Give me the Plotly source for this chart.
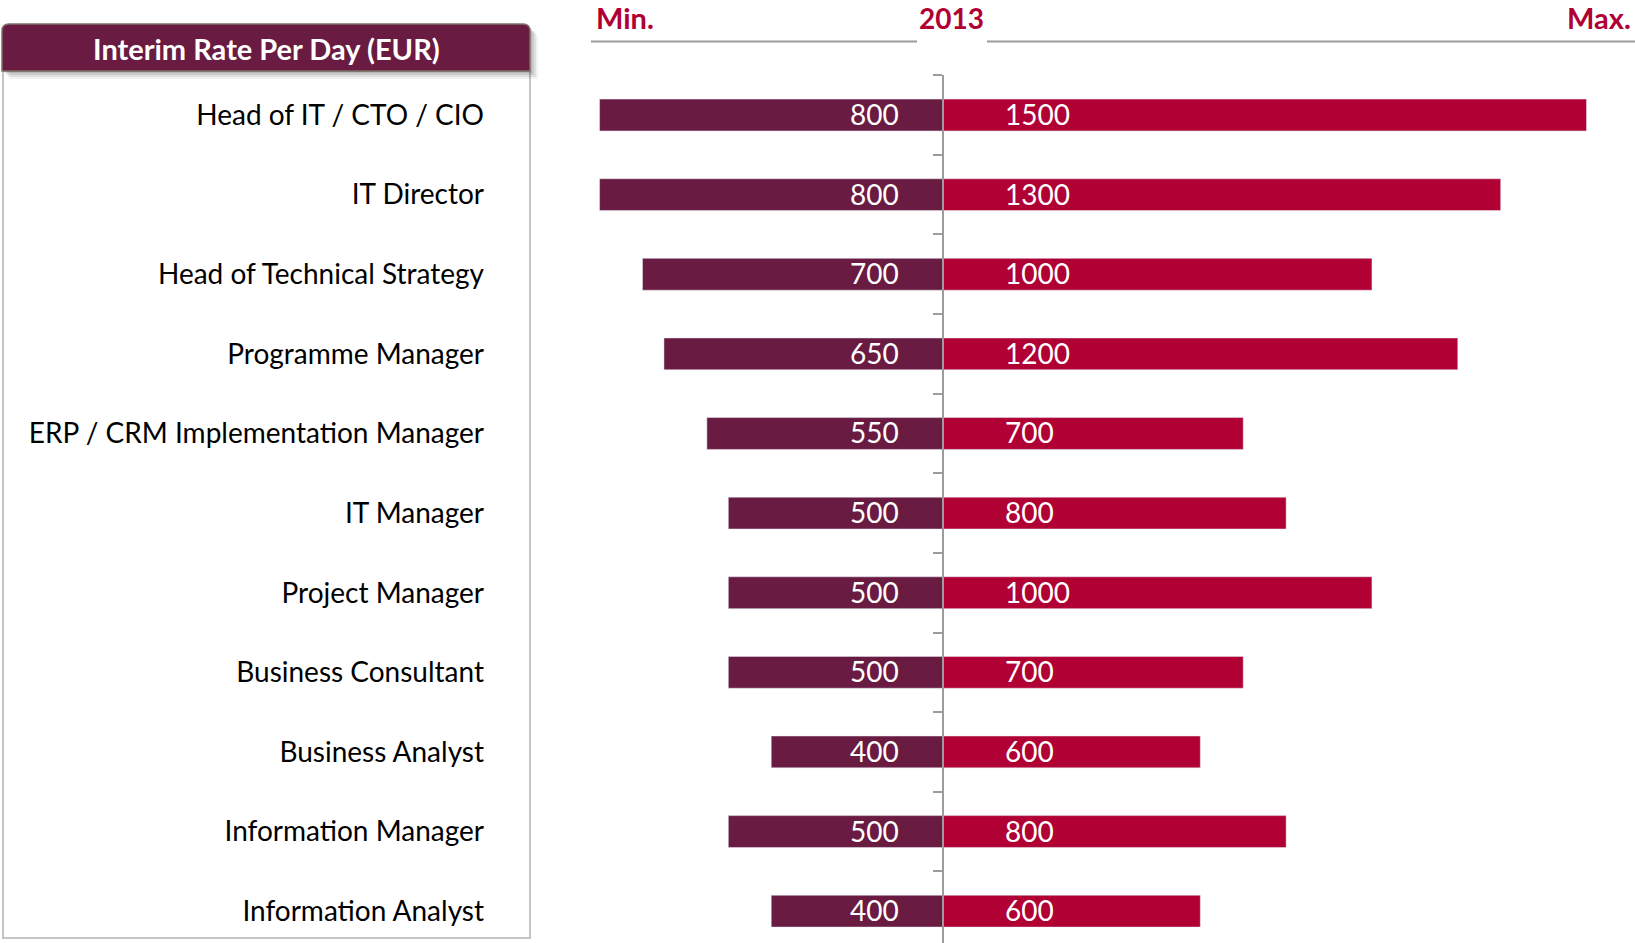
import plotly.graph_objects as go

# ---- data ----
categories = [
    "Head of IT / CTO / CIO",
    "IT Director",
    "Head of Technical Strategy",
    "Programme Manager",
    "ERP / CRM Implementation Manager",
    "IT Manager",
    "Project Manager",
    "Business Consultant",
    "Business Analyst",
    "Information Manager",
    "Information Analyst",
]
min_vals = [800, 800, 700, 650, 550, 500, 500, 500, 400, 500, 400]
max_vals = [1500, 1300, 1000, 1200, 700, 800, 1000, 700, 600, 800, 600]
panel_title = "Interim Rate Per Day (EUR)"
head_left, head_mid, head_right = "Min.", "2013", "Max."

# ---- styling ----
W, H = 1635, 943
FONT = "Lato"
C_MIN = "#6A1B41"
C_MAX = "#B10034"
C_HEAD = "#B00033"
GRID = "#9C9C9C"

def px(x):
    return x / W

def py(y):
    return 1 - y / H

X_RANGE = [-820, 1613]
X_DOM = [px(591), 1.0]
Y_RANGE = [10.40, -0.503]
Y_DOM = [0.0, py(75)]
idx = list(range(len(categories)))

# paper position of x=0
zero_paper = X_DOM[0] + (0 - X_RANGE[0]) / (X_RANGE[1] - X_RANGE[0]) * (X_DOM[1] - X_DOM[0])

fig = go.Figure()
fig.add_trace(go.Bar(
    y=idx, x=[-v for v in min_vals], orientation="h", marker_color=C_MIN,
    width=0.4, showlegend=False, hoverinfo="skip", yaxis="y",
))
fig.add_trace(go.Bar(
    y=idx, x=max_vals, orientation="h", marker_color=C_MAX,
    width=0.4, showlegend=False, hoverinfo="skip", yaxis="y2",
))

annotations = []
for i, (a, b) in enumerate(zip(min_vals, max_vals)):
    annotations.append(dict(x=0, y=i, xref="x", yref="y", text=str(a), showarrow=False,
                            xanchor="right", yanchor="middle", xshift=-42, yshift=1,
                            font=dict(family=FONT, size=28, color="white")))
    annotations.append(dict(x=0, y=i, xref="x", yref="y", text=str(b), showarrow=False,
                            xanchor="left", yanchor="middle", xshift=60, yshift=1,
                            font=dict(family=FONT, size=28, color="white")))

# header texts
annotations += [
    dict(x=px(594), y=py(18), xref="paper", yref="paper", text=f"<b>{head_left}</b>",
         showarrow=False, xanchor="left", yanchor="middle",
         font=dict(family=FONT, size=29, color=C_HEAD)),
    dict(x=px(951), y=py(18), xref="paper", yref="paper", text=f"<b>{head_mid}</b>",
         showarrow=False, xanchor="center", yanchor="middle",
         font=dict(family=FONT, size=28, color=C_HEAD)),
    dict(x=px(1633), y=py(18), xref="paper", yref="paper", text=f"<b>{head_right}</b>",
         showarrow=False, xanchor="right", yanchor="middle",
         font=dict(family=FONT, size=29, color=C_HEAD)),
    dict(x=px(266), y=py(48), xref="paper", yref="paper", text=f"<b>{panel_title}</b>",
         showarrow=False, xanchor="center", yanchor="middle",
         font=dict(family=FONT, size=29, color="white")),
]

def rounded_top(x0, y0, x1, y1, r):
    return (f"M {px(x0)},{py(y1)} L {px(x0)},{py(y0 + r)} "
            f"Q {px(x0)},{py(y0)} {px(x0 + r)},{py(y0)} "
            f"L {px(x1 - r)},{py(y0)} Q {px(x1)},{py(y0)} {px(x1)},{py(y0 + r)} "
            f"L {px(x1)},{py(y1)} Z")

shapes = [
    # panel box
    dict(type="rect", xref="paper", yref="paper", x0=px(3), x1=px(530), y0=py(938), y1=py(71),
         line=dict(color="#C4C4C4", width=2), fillcolor="white", layer="below"),
]
# header shadow
for off, op in [(8, 0.05), (6, 0.07), (4, 0.09), (2, 0.1)]:
    shapes.append(dict(type="path", xref="paper", yref="paper",
                       path=rounded_top(2 + off, 24 + off, 530 + off, 71 + off, 7),
                       fillcolor=f"rgba(0,0,0,{op})", line=dict(width=0), layer="below"))
shapes += [
    dict(type="path", xref="paper", yref="paper", path=rounded_top(2, 24, 530, 71, 7),
         fillcolor="#6A1B41", line=dict(color="#7E7068", width=1.5), layer="below"),
    # header rules
    dict(type="line", xref="paper", yref="paper", x0=px(591), x1=px(917), y0=py(41.5), y1=py(41.5),
         line=dict(color=GRID, width=2)),
    dict(type="line", xref="paper", yref="paper", x0=px(987), x1=px(1635), y0=py(41.5), y1=py(41.5),
         line=dict(color=GRID, width=2)),
]

fig.update_layout(
    width=W, height=H,
    margin=dict(l=0, r=0, t=0, b=0),
    paper_bgcolor="white", plot_bgcolor="rgba(0,0,0,0)",
    barmode="overlay",
    xaxis=dict(domain=X_DOM, range=X_RANGE, showgrid=False, zeroline=False,
               showticklabels=False, showline=False, fixedrange=True),
    yaxis=dict(domain=Y_DOM, range=Y_RANGE, anchor="free", position=px(484),
               tickmode="array", tickvals=idx, ticktext=categories,
               ticks="", showgrid=False, zeroline=False, showline=False,
               tickfont=dict(family=FONT, size=28, color="black"), fixedrange=True),
    yaxis2=dict(domain=Y_DOM, range=Y_RANGE, overlaying="y", anchor="free", position=zero_paper,
                side="left", tickmode="array", tickvals=[i - 0.5 for i in idx],
                ticks="outside", ticklen=9, tickwidth=1.5, tickcolor=GRID,
                showticklabels=False, showgrid=False, zeroline=False,
                showline=True, linecolor=GRID, linewidth=1.5, fixedrange=True),
    shapes=shapes,
    annotations=annotations,
    font=dict(family=FONT),
)

fig.write_html("out.html", config={"displayModeBar": False},
               post_script="document.body.style.margin='0';document.body.style.overflow='hidden';")
